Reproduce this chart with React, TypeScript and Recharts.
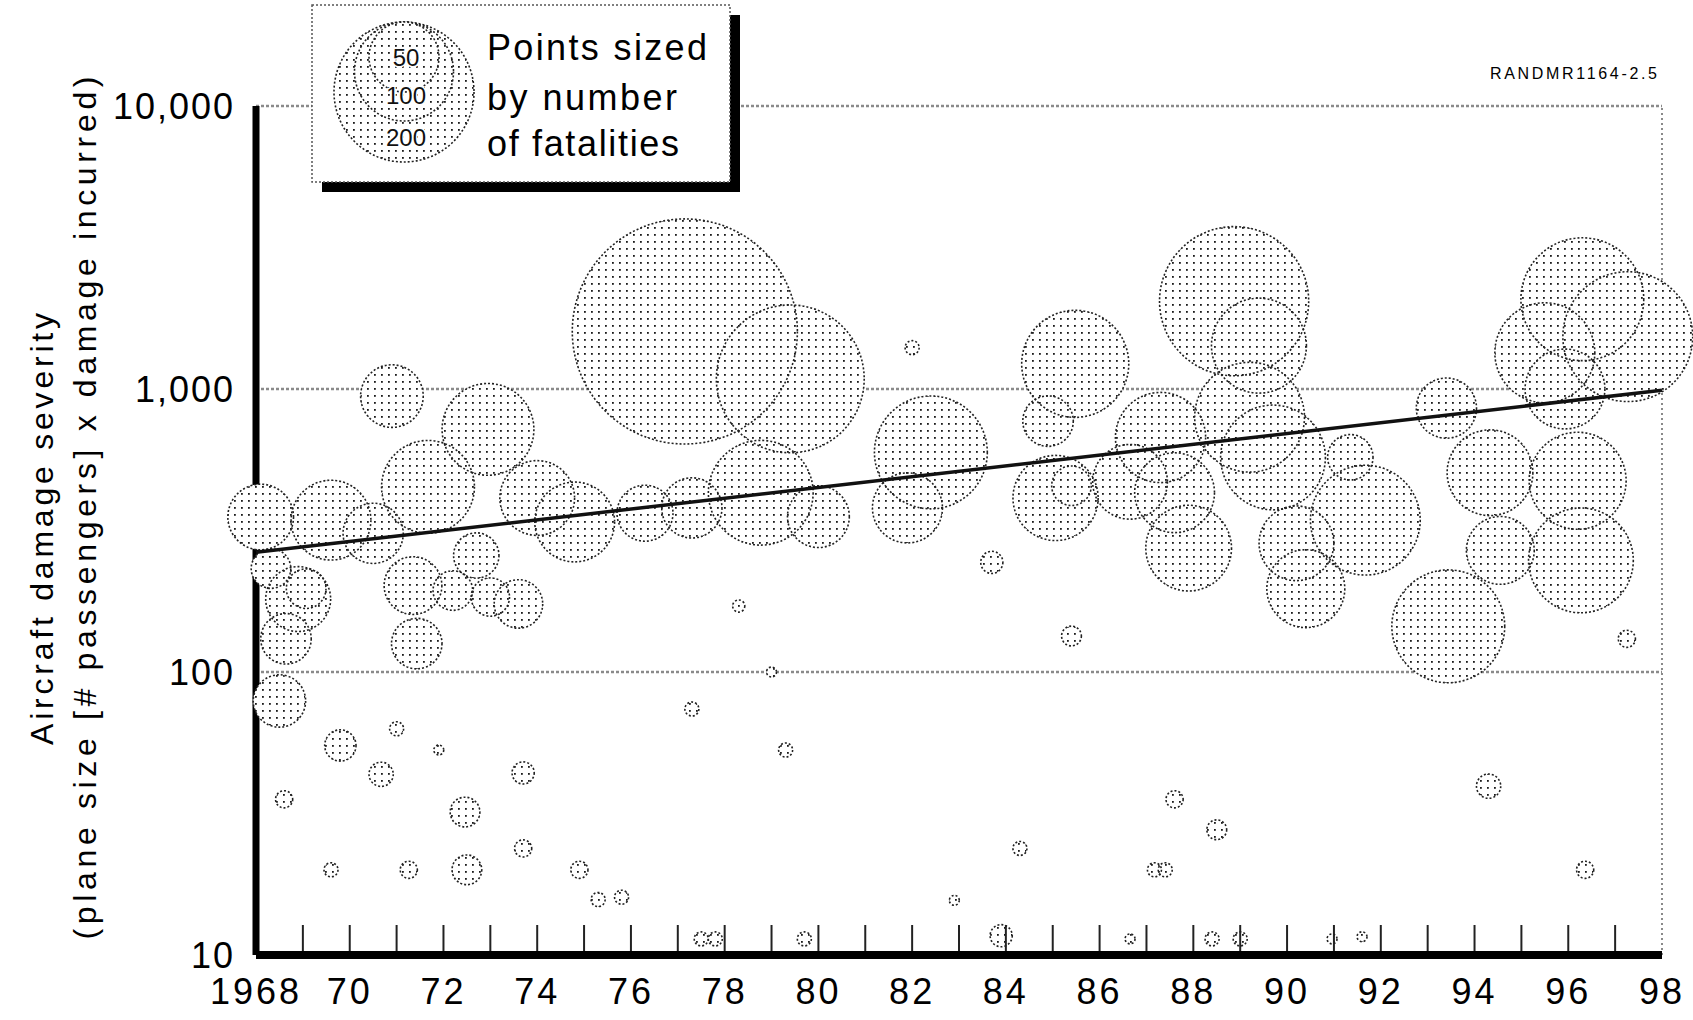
import React from "react";
import {
  ScatterChart,
  Scatter,
  XAxis,
  YAxis,
  ZAxis,
  CartesianGrid,
  ReferenceLine,
} from "recharts";

// accident year, damage severity (log scale), fatalities (bubble area)
const accidentYears = [
  1970.9, 1972.95, 1971.67, 1968.1, 1969.6, 1970.5, 1974.0, 1974.8, 1976.3, 1977.3,
  1977.15, 1979.4, 1978.77, 1980.0, 1982.4, 1981.9, 1985.48, 1984.9, 1985.06, 1985.4,
  1986.65, 1987.3, 1988.87, 1989.4, 1989.2, 1989.7, 1987.6, 1987.9, 1990.2, 1990.4,
  1991.67, 1991.35, 1993.44, 1993.4, 1994.33, 1994.55, 1996.2, 1996.27, 1996.3, 1997.27,
  1995.5, 1995.93, 1968.9, 1969.07, 1968.64, 1968.32, 1968.5, 1971.35, 1971.43, 1972.2,
  1973.0, 1973.6, 1972.7, 1968.6, 1969.8, 1971.0, 1971.9, 1970.67, 1972.46, 1972.5,
  1971.26, 1969.6, 1973.7, 1973.7, 1974.9, 1975.3, 1975.8, 1977.3, 1978.3, 1979.0,
  1979.3, 1977.5, 1977.8, 1979.7, 1982.0, 1982.9, 1983.7, 1983.9, 1984.3, 1985.4,
  1986.65, 1987.17, 1987.4, 1987.6, 1988.5, 1988.4, 1989.0, 1990.96, 1991.6, 1994.3,
  1996.36, 1997.25,
];
const severity = [
  944, 720, 451, 353, 344, 309, 412, 339, 364, 380,
  1597, 1086, 430, 354, 597, 380, 1227, 770, 412, 455,
  470, 674, 2043, 1423, 795, 573, 430, 274, 285, 197,
  344, 574, 145, 856, 506, 269, 474, 248, 2076, 1531,
  1343, 1000, 181, 197, 131, 232, 79, 202, 126, 194,
  184, 174, 258, 35.5, 55, 63, 53, 43.5, 32, 20,
  20, 20, 44, 23.8, 20, 15.7, 16, 74, 171, 100,
  53, 11.4, 11.4, 11.4, 1400, 15.6, 244, 11.7, 23.8, 134,
  11.4, 20, 20, 35.5, 27.7, 11.4, 11.4, 11.4, 11.6, 39.5,
  20, 131,
];
const fatalities = [
  40, 86, 88, 44, 65, 37, 57, 65, 32, 37,
  517, 223, 112, 39, 130, 50, 117, 26, 74, 16,
  57, 83, 227, 92, 123, 112, 65, 75, 57, 62,
  123, 21, 130, 37, 75, 47, 96, 112, 154, 172,
  102, 65, 43, 16, 26, 16, 28, 34, 26, 16,
  15, 24, 21, 3, 10, 2, 1, 6, 9, 9,
  3, 2, 5, 3, 3, 2, 2, 2, 1.5, 1,
  2, 2, 2, 2, 2, 1, 5, 5, 2, 4,
  1, 2, 2, 3, 4, 2, 2, 1, 1, 6,
  3, 3,
];

// fitted trend (straight on the log scale)
const trendYears = [1968, 1998];
const trendSeverity = [265, 990];

const yTicks = [10, 100, 1000, 10000];
const yearTicks = [
  1968, 1969, 1970, 1971, 1972, 1973, 1974, 1975, 1976, 1977, 1978, 1979, 1980,
  1981, 1982, 1983, 1984, 1985, 1986, 1987, 1988, 1989, 1990, 1991, 1992, 1993,
  1994, 1995, 1996, 1997, 1998,
];

const legendSizes = [200, 100, 50];

const FONT = "'Liberation Sans', Arial, Helvetica, sans-serif";

const bubbles = accidentYears.map((x, i) => ({ x, y: severity[i], z: fatalities[i] }));
const trend = trendYears.map((x, i) => ({ x, y: trendSeverity[i] }));

// area proportional to fatalities: 200 fatalities -> 140px circle
const PX_PER_FATALITY = (Math.PI * 70 * 70) / 200;

function BubbleFill(props: any) {
  const { cx, cy, width } = props;
  if (cx == null || cy == null) return <g />;
  return <circle cx={cx} cy={cy} r={width / 2} fill="url(#stipple)" />;
}

function BubbleEdge(props: any) {
  const { cx, cy, width } = props;
  if (cx == null || cy == null) return <g />;
  return (
    <circle
      cx={cx}
      cy={cy}
      r={width / 2}
      fill="none"
      stroke="#222"
      strokeWidth={1.6}
      strokeDasharray="2 2"
    />
  );
}

function NoDot() {
  return <g />;
}

function YearTick(props: any) {
  const { x, y, payload } = props;
  const yr = payload.value as number;
  const edge = yr === 1968 || yr === 1998;
  let label = "";
  if (yr === 1968) label = "1968";
  else if (yr % 2 === 0) label = String(yr).slice(2);
  return (
    <g>
      {!edge && <line x1={x} x2={x} y1={y - 4} y2={y - 30} stroke="#222" strokeWidth={2} />}
      {label && (
        <text
          x={x}
          y={y + 49}
          textAnchor="middle"
          fontSize={36}
          fontFamily={FONT}
          letterSpacing={3}
          fill="#000"
        >
          {label}
        </text>
      )}
    </g>
  );
}

function Legend() {
  const cx = 404;
  const top = 22;
  const labelY = [146, 104, 66];
  return (
    <g>
      <rect x={322} y={15} width={418} height={177} fill="#000" />
      <rect
        x={312}
        y={5}
        width={418}
        height={177}
        fill="#fff"
        stroke="#555"
        strokeWidth={1.5}
        strokeDasharray="2 2"
      />
      {legendSizes.map((s) => {
        const r = Math.sqrt((PX_PER_FATALITY * s) / Math.PI);
        return (
          <circle
            key={s}
            cx={cx}
            cy={top + r}
            r={r}
            fill="url(#stipple)"
            stroke="#222"
            strokeWidth={1.6}
            strokeDasharray="2 2"
          />
        );
      })}
      {legendSizes.map((s, i) => (
        <text
          key={"t" + s}
          x={cx + 2}
          y={labelY[i]}
          textAnchor="middle"
          fontSize={24}
          fontFamily={FONT}
          fill="#111"
          stroke="#fff"
          strokeWidth={3}
          paintOrder="stroke"
        >
          {s}
        </text>
      ))}
      <text x={487} y={60} fontSize={36} fontFamily={FONT} textLength={220} lengthAdjust="spacing">
        Points sized
      </text>
      <text x={487} y={110} fontSize={36} fontFamily={FONT} textLength={190} lengthAdjust="spacing">
        by number
      </text>
      <text x={487} y={156} fontSize={36} fontFamily={FONT} textLength={192} lengthAdjust="spacing">
        of fatalities
      </text>
    </g>
  );
}

export default function App() {
  return (
    <div
      style={{
        position: "absolute",
        left: 0,
        top: 0,
        width: 1693,
        height: 1020,
        background: "#fff",
        fontFamily: FONT,
      }}
    >
      <svg width={0} height={0} style={{ position: "absolute" }}>
        <defs>
          <pattern id="stipple" patternUnits="userSpaceOnUse" width={7} height={7}>
            <rect width={7} height={7} fill="#fff" />
            <rect x={3} y={3} width={1.8} height={1.8} fill="#1a1a1a" />
          </pattern>
        </defs>
      </svg>

      <ScatterChart width={1693} height={1020} margin={{ top: 106, right: 31, bottom: 0, left: 0 }}>
        <CartesianGrid vertical={false} stroke="#8a8a8a" strokeWidth={2.5} strokeDasharray="3 2" />
        <ReferenceLine x={1998} stroke="#8a8a8a" strokeWidth={2} strokeDasharray="2 3" />
        <XAxis
          dataKey="x"
          type="number"
          domain={[1968, 1998]}
          ticks={yearTicks}
          interval={0}
          tick={<YearTick />}
          tickLine={false}
          tickSize={0}
          tickMargin={0}
          axisLine={{ stroke: "#000", strokeWidth: 8 }}
          height={65}
        />
        <YAxis
          dataKey="y"
          type="number"
          scale="log"
          domain={[10, 10000]}
          ticks={yTicks}
          interval={0}
          width={256}
          tickLine={false}
          tickSize={0}
          tickMargin={21}
          axisLine={{ stroke: "#000", strokeWidth: 7 }}
          tick={{ fill: "#000", fontSize: 36, fontFamily: FONT, letterSpacing: 2 }}
          tickFormatter={(v: number) => v.toLocaleString("en-US")}
        />
        <ZAxis dataKey="z" type="number" domain={[0, 600]} range={[0, PX_PER_FATALITY * 600]} />
        <Scatter data={bubbles} shape={<BubbleFill />} isAnimationActive={false} />
        <Scatter data={bubbles} shape={<BubbleEdge />} isAnimationActive={false} />
        <Scatter
          data={trend}
          shape={<NoDot />}
          line={{ stroke: "#111", strokeWidth: 3.5 }}
          isAnimationActive={false}
        />
      </ScatterChart>

      <svg
        width={1693}
        height={1020}
        style={{ position: "absolute", left: 0, top: 0, pointerEvents: "none" }}
      >
        <Legend />
        <text
          transform="translate(53, 529) rotate(-90)"
          textAnchor="middle"
          fontSize={32}
          fontFamily={FONT}
          textLength={432}
          lengthAdjust="spacing"
        >
          Aircraft damage severity
        </text>
        <text
          transform="translate(96, 508) rotate(-90)"
          textAnchor="middle"
          fontSize={32}
          fontFamily={FONT}
          textLength={863}
          lengthAdjust="spacing"
        >
          (plane size [# passengers] x damage incurred)
        </text>
        <text x={1490} y={79} fontSize={16} fontFamily={FONT} textLength={167} lengthAdjust="spacing">
          RANDMR1164-2.5
        </text>
      </svg>
    </div>
  );
}
